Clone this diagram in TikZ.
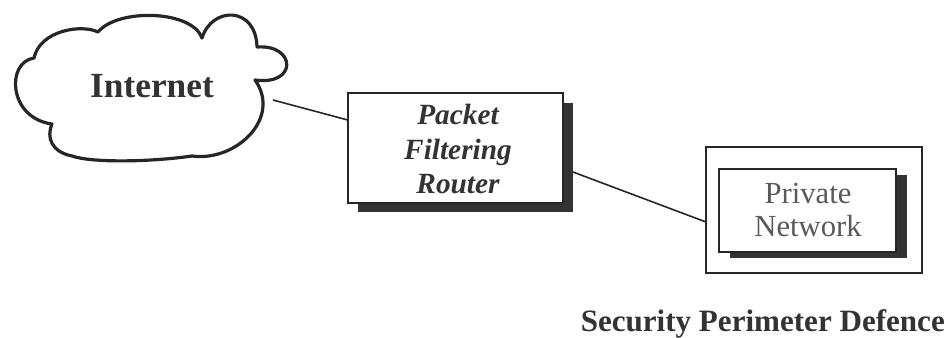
\documentclass[tikz,border=0pt]{standalone}
\usepackage{fontspec}
\setmainfont{Liberation Serif}
\begin{document}
\begin{tikzpicture}[x=0.75pt,y=-0.75pt,
  boxline/.style={draw=black!85,line width=1.1pt,fill=white},
  shadowbox/.style={fill=black!80,draw=none},
  conn/.style={draw=black!85,line width=1.2pt},
  txt/.style={text=black!80,align=center,inner sep=0pt}]
\useasboundingbox (0,0) rectangle (948,337);
% cloud
\draw[line width=2.4pt,black!85,fill=white,line join=round]
  (52,124) .. controls (8,118) and (6,62) .. (34,58)
  .. controls (40,30) and (82,24) .. (98,32)
  .. controls (118,8) and (192,10) .. (202,38)
  .. controls (212,6) and (256,6) .. (257,47)
  .. controls (296,44) and (298,86) .. (255,80)
  .. controls (282,118) and (236,162) .. (192,156)
  .. controls (150,162) and (92,163) .. (72,156)
  .. controls (52,152) and (46,138) .. (52,124) -- cycle;
\node[txt,font=\fontsize{26.5}{30}\selectfont\bfseries] (inet) at (152,86) {Internet};
\coordinate (cloudout) at (273,100);
% router
\fill[shadowbox] (358,103) rectangle (573,212);
\draw[boxline] (348,93) rectangle (563,203);
\node[minimum width=215*0.75pt,minimum height=110*0.75pt,inner sep=0pt] (router) at (455.5,148) {};
\node[txt,font=\fontsize{22}{26}\selectfont\bfseries\itshape] at (458,149) {Packet\\Filtering\\Router};
% private network
\draw[boxline] (706,147) rectangle (922,273);
\node[minimum width=216*0.75pt,minimum height=126*0.75pt,inner sep=0pt] (perim) at (814,210) {};
\fill[shadowbox] (730,175) rectangle (907,258);
\draw[boxline] (719,169) rectangle (896,252);
\node[txt,text=black!65,font=\fontsize{23}{24.5}\selectfont] (priv) at (808,210) {Private\\Network};
% connectors
\draw[conn] (cloudout) -- (router.west |- 0,120);
\coordinate (rout) at (573,172);
\coordinate (pin) at (706,222);
\draw[conn] (rout) -- (pin);
% caption
\node[txt,anchor=base east,font=\fontsize{23.3}{26}\selectfont\bfseries] (cap) at (945,331) {Security Perimeter Defence};
\end{tikzpicture}
\end{document}
